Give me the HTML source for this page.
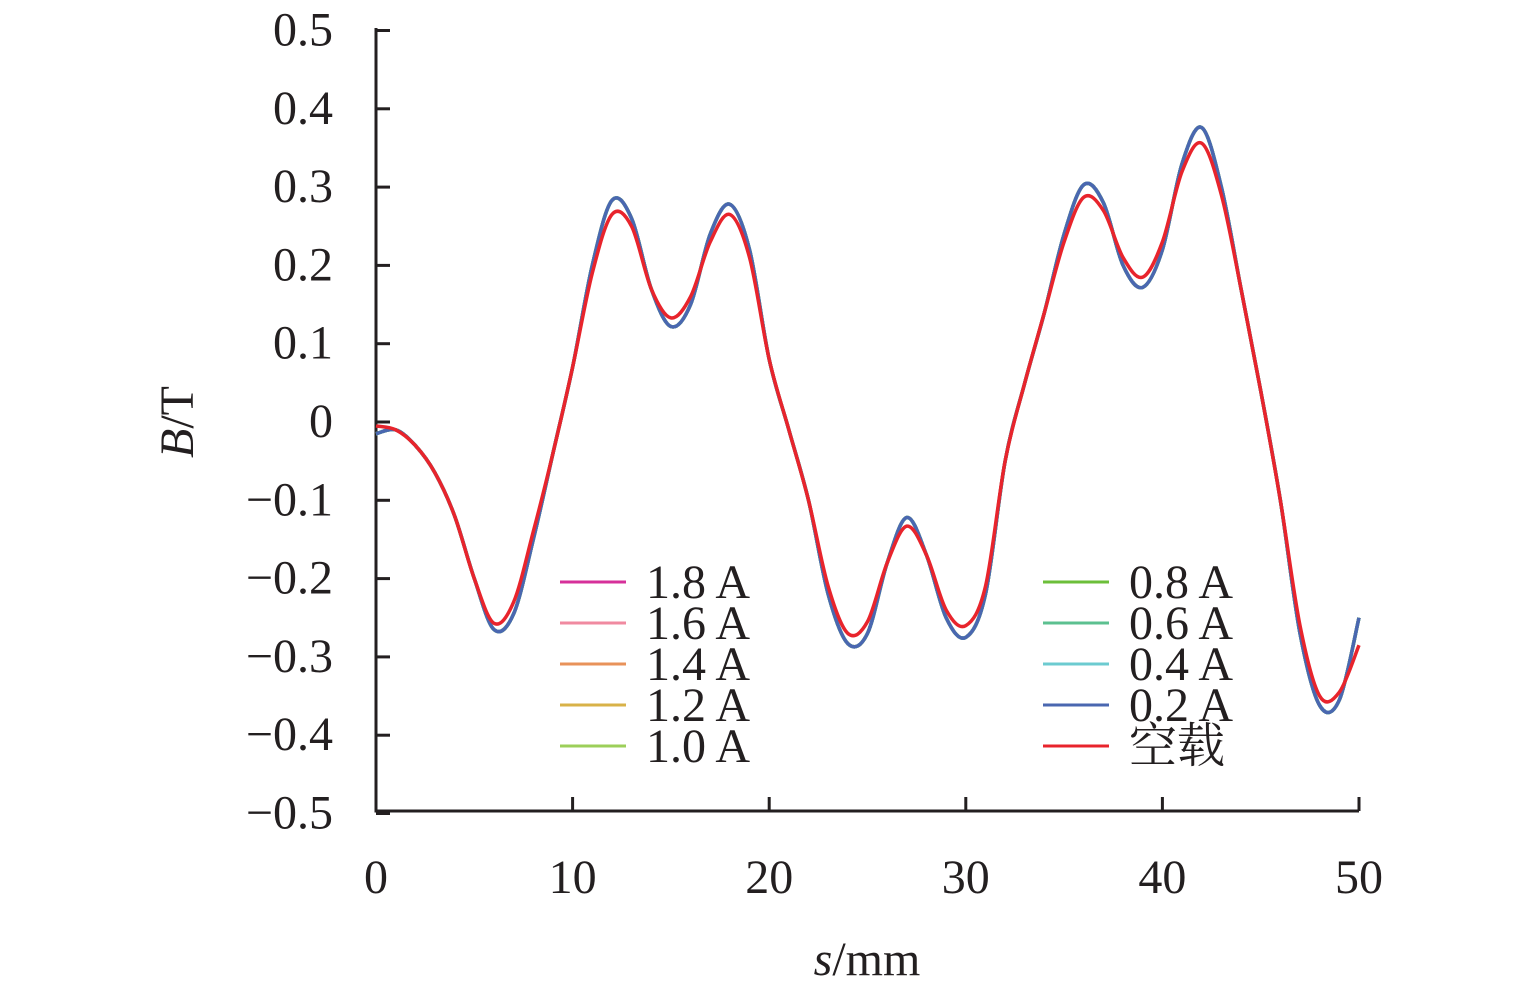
<!DOCTYPE html>
<html><head><meta charset="utf-8"><style>
body{margin:0;background:#fff;}
svg text{font-family:"Liberation Serif","Noto Serif CJK SC",serif;fill:#231f20;}
</style></head><body>
<svg id="chart" width="1535" height="992" xmlns="http://www.w3.org/2000/svg">
<g id="axes"></g>
<g id="series"></g>
<g id="legend"></g>
<text transform="translate(193,422) rotate(-90)" text-anchor="middle" font-size="48"><tspan font-style="italic">B</tspan>/T</text>
<text x="867" y="975" text-anchor="middle" font-size="48"><tspan font-style="italic">s</tspan>/mm</text>
</svg>
<script>
const xTicks=[0,10,20,30,40,50];
const yTicks=[0.5,0.4,0.3,0.2,0.1,0,-0.1,-0.2,-0.3,-0.4,-0.5];
const yTickLabels=["0.5","0.4","0.3","0.2","0.1","0","\u22120.1","\u22120.2","\u22120.3","\u22120.4","\u22120.5"];
const sLoaded=[0,1,2,3,4,5,6,7,8,9,10,11,12,13,14,15,16,17,18,19,20,21,22,23,24,25,26,27,28,29,30,31,32,33,34,35,36,37,38,39,40,41,42,43,44,45,46,47,48,49,50];
const bLoaded=[-0.015,-0.01,-0.03,-0.065,-0.12,-0.2,-0.265,-0.245,-0.15,-0.04,0.07,0.2,0.283,0.26,0.17,0.122,0.15,0.24,0.278,0.22,0.08,-0.01,-0.1,-0.22,-0.283,-0.27,-0.18,-0.122,-0.17,-0.25,-0.275,-0.22,-0.05,0.05,0.14,0.24,0.303,0.28,0.2,0.172,0.22,0.33,0.376,0.3,0.17,0.04,-0.1,-0.27,-0.362,-0.355,-0.25];
const sNoLoad=[0,1,2,3,4,5,6,7,8,9,10,11,12,13,14,15,16,17,18,19,20,21,22,23,24,25,26,27,28,29,30,31,32,33,34,35,36,37,38,39,40,41,42,43,44,45,46,47,48,49,50];
const bNoLoad=[-0.005,-0.01,-0.03,-0.065,-0.12,-0.2,-0.257,-0.23,-0.14,-0.04,0.07,0.19,0.265,0.25,0.17,0.133,0.16,0.23,0.265,0.21,0.08,-0.01,-0.1,-0.21,-0.27,-0.255,-0.18,-0.133,-0.17,-0.24,-0.26,-0.21,-0.05,0.05,0.14,0.23,0.287,0.27,0.21,0.185,0.23,0.32,0.356,0.29,0.17,0.04,-0.1,-0.26,-0.35,-0.345,-0.285];
const legendLabels=["1.8 A","1.6 A","1.4 A","1.2 A","1.0 A","0.8 A","0.6 A","0.4 A","0.2 A","空载"];
const legendColors=["#d6309a","#f08aa0","#e8925a","#d8b248","#9ccf5a","#6cbf3a","#5cc090","#6ccbd0","#4a67b0","#e8242c"];

const NS="http://www.w3.org/2000/svg";
const X=v=>376+v*19.66, Y=v=>422-v*783;
function mk(t,a,p){const e=document.createElementNS(NS,t);for(const k in a)e.setAttribute(k,a[k]);p.appendChild(e);return e;}
const ax=document.getElementById('axes');
let e=mk('path',{d:`M376,28V811H1359`,fill:'none',stroke:'#231f20','stroke-width':3},ax);

xTicks.forEach(t=>{
 let l=mk('line',{x1:X(t),x2:X(t),y1:811,y2:797,stroke:'#231f20','stroke-width':3},ax);
 
 let tx=mk('text',{x:X(t),y:893,'text-anchor':'middle','font-size':48},ax);tx.textContent=t;
 
});
yTicks.forEach((t,i)=>{
 let l=mk('line',{x1:376,x2:390,y1:Y(t),y2:Y(t),stroke:'#231f20','stroke-width':3},ax);
 
 let tx=mk('text',{x:333,y:Y(t)+15,'text-anchor':'end','font-size':48},ax);tx.textContent=yTickLabels[i];
 
});
function smooth(xs,ys){const p=xs.map((x,i)=>[X(x),Y(ys[i])]);let d=`M${p[0][0]},${p[0][1]}`;
 for(let i=0;i<p.length-1;i++){const p0=p[i-1]||p[i],p1=p[i],p2=p[i+1],p3=p[i+2]||p2;
  d+=`C${p1[0]+(p2[0]-p0[0])/6},${p1[1]+(p2[1]-p0[1])/6} ${p2[0]-(p3[0]-p1[0])/6},${p2[1]-(p3[1]-p1[1])/6} ${p2[0]},${p2[1]}`;}return d;}
const sg=document.getElementById('series');
for(let i=0;i<9;i++){
 let p=mk('path',{d:smooth(sLoaded,bLoaded),fill:'none',stroke:legendColors[i],'stroke-width':3.5},sg);
 
}
let r=mk('path',{d:smooth(sNoLoad,bNoLoad),fill:'none',stroke:legendColors[9],'stroke-width':3.5},sg);

const lg=document.getElementById('legend');
legendLabels.forEach((lab,i)=>{
 const col=i<5?0:1,row=i<5?i:i-5;const x0=col?1043:560,y0=582+row*41;
 let g=mk('g',{},lg);
 mk('line',{x1:x0,x2:x0+66,y1:y0,y2:y0,stroke:legendColors[i],'stroke-width':3},g);
 let t=mk('text',{x:x0+86,y:y0+16,'font-size':48},g);t.textContent=lab;
});
</script>
</body></html>
